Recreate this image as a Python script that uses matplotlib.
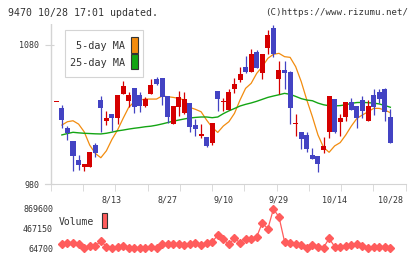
import numpy as np
import matplotlib.pyplot as plt
from matplotlib.patches import Rectangle

plt.rcParams['font.family'] = 'DejaVu Sans Mono'

# daily candles (first one is the previous close marker)
opens = [1039, 1035, 1020.5, 1011, 997, 992, 992.4, 1008, 1040.4, 1025.6,
         1030.1, 1027.2, 1044.7, 1039.9, 1048.8, 1044, 1036.1, 1044.7, 1055.3, 1056,
         1043.3, 1022.9, 1035.6, 1030.8, 1038, 1022.4, 1014.5, 1013.5, 1009.7, 1046.9,
         1039.2, 1033.2, 1048.4, 1054.8, 1063.9, 1060.8, 1074.7, 1060.1, 1078.1, 1092,
         1055.5, 1062, 1060.3, 1023.4, 1017.4, 1015.3, 1000.9, 1000.2, 1004.5, 1017.7,
         1041.2, 1024.9, 1028.4, 1039, 1036.1, 1040.4, 1025.6, 1044, 1046.4, 1048.4,
         1028.4]
closes = [1039, 1026, 1017, 1000, 994, 994.3, 1003.2, 1002.5, 1034.9, 1027.7,
          1027.7, 1044, 1050.7, 1044, 1035.1, 1036.3, 1040.9, 1051.2, 1051.7, 1042.8,
          1028.4, 1036.1, 1042.8, 1040.9, 1020.7, 1019.5, 1015.7, 1007.5, 1023.6, 1041.1,
          1039.2, 1046.4, 1051.7, 1059.1, 1060.3, 1073.3, 1063.7, 1073.5, 1087.2, 1073.5,
          1062, 1060.1, 1034.9, 1023.4, 1012.6, 1005.2, 997.8, 994.4, 1007.4, 1043.3,
          1017.7, 1027.5, 1039, 1033.2, 1027.7, 1032.7, 1036.1, 1035.6, 1041.1, 1032,
          1009.7]
highs = [1039, 1037, 1022, 1011, 1001, 994.3, 1003.2, 1009.7, 1043.3, 1032.5,
         1030.1, 1044, 1054.1, 1046.4, 1048.8, 1046.4, 1042.3, 1055.3, 1057.2, 1056,
         1043.3, 1036.1, 1046.9, 1046.4, 1038, 1026.5, 1022.9, 1013.5, 1024.1, 1046.9,
         1042.1, 1048.1, 1056, 1063.9, 1072.1, 1076.9, 1076.4, 1073.5, 1090.8, 1094.4,
         1068.5, 1068.5, 1061.3, 1030.4, 1017.4, 1017.2, 1005.7, 1000.2, 1013.6, 1043.3,
         1041.2, 1030.4, 1039, 1041.6, 1036.1, 1043.3, 1040.4, 1048.4, 1048.4, 1049.3,
         1033.7]
lows = [1039, 1020, 1012, 989, 990, 989.6, 992.4, 999.7, 1017.7, 1022.4,
        1018.1, 1023.2, 1044.7, 1035.1, 1031.3, 1031.5, 1035.1, 1044.7, 1051.2, 1036.8,
        1023.6, 1022.9, 1028.9, 1030.3, 1017.6, 1014.5, 1012.8, 1006.8, 1008, 1032.7,
        1032.7, 1033.2, 1045.7, 1053.6, 1059.6, 1060.8, 1063.7, 1055.5, 1073.5, 1071.1,
        1044.8, 1048.4, 1023.2, 1014.5, 1005.2, 1003.3, 997.8, 988.9, 1002.6, 1013.3,
        1016.9, 1014.5, 1025.3, 1033.2, 1020.5, 1027.7, 1025.6, 1029.6, 1038, 1025.6,
        1009.7]

# moving averages, from the 2nd candle on
ma5 = [1022.4, 1024.8, 1025.5, 1023.1, 1017.6, 1008, 1002, 998.9, 1003.9, 1012.1,
       1018.8, 1027.2, 1035.1, 1039.2, 1040.4, 1041.1, 1041.1, 1041.1, 1043.3, 1042.8,
       1042.3, 1041.6, 1040.4, 1035.1, 1033.7, 1032, 1026, 1020.7, 1017.1, 1021.7,
       1024.8, 1030.8, 1040.4, 1048.8, 1052.4, 1059.6, 1064.4, 1070.4, 1073.3, 1074,
       1071.6, 1071.1, 1064.4, 1053.6, 1040.4, 1028.4, 1015.3, 1006.4, 1002.8, 1007.4,
       1009.8, 1015.3, 1021.7, 1027.2, 1029.7, 1032, 1034.4, 1034.4, 1033.2, 1031.3]
ma25 = [1015.3, 1016.3, 1017.2, 1016.8, 1016.5, 1016.3, 1016.1, 1016, 1016.5, 1017.3,
        1018.2, 1018.8, 1019.5, 1020.1, 1020.6, 1021.2, 1021.6, 1022.3, 1023.2, 1024.2,
        1025.2, 1026, 1026.8, 1027.5, 1027.9, 1028.2, 1028.2, 1027.7, 1028.2, 1030.6,
        1032.6, 1034.3, 1036.1, 1037.3, 1038.3, 1039.5, 1040.9, 1042.3, 1043.3, 1044.2,
        1045.2, 1044.5, 1043.0, 1041.4, 1040.4, 1039.9, 1038.2, 1037, 1036.3, 1036.2,
        1036.4, 1037.0, 1038.0, 1038.6, 1038.7, 1038.5, 1038.2, 1037.6, 1036.5, 1035.2]

volume = [159400, 179700, 179700, 145900, 78200, 112000, 112000, 213500, 98500, 78200,
          91800, 112000, 78200, 78200, 78200, 64700, 91800, 78200, 145900, 159400,
          145900, 159400, 125600, 145900, 179700, 125600, 179700, 193200, 335300, 247300,
          145900, 267600, 179700, 247300, 247300, 301400, 585500, 463800, 869600, 707300,
          200000, 179700, 159400, 132300, 64700, 125600, 98500, 78200, 267600, 98500,
          98500, 112000, 132300, 145900, 112000, 64700, 98500, 98500, 91800, 78200]

date_labels = ['8/13', '8/27', '9/10', '9/29', '10/14', '10/28']
date_index = [11, 21, 31, 41, 51, 61]
price_ticks = [980, 1080]
vol_ticks = [64700, 467150, 869600]

RED = '#d50000'
BLUE = '#4343c3'
ORANGE = '#f28c0f'
GREEN = '#14a514'
VOLC = '#ff5c5c'
GRAY = '#d4d4d4'
TXT = '#333333'

W, H = 420, 259
fig = plt.figure(figsize=(W / 100, H / 100), dpi=100)


def fx(px):
    return px / W


def fy(py):
    return 1 - py / H


# price panel
ax = fig.add_axes([fx(45), fy(184), fx(405.7) - fx(45), fy(24) - fy(184)])
n = len(closes)
x = np.arange(1, n + 1)
for i in range(n):
    o, c = opens[i], closes[i]
    col = RED if c >= o else BLUE
    ax.vlines(x[i], lows[i], highs[i], color=col, lw=0.9, zorder=3)
    ax.bar(x[i], max(abs(c - o), 0.7), bottom=min(o, c), width=0.9,
           color=col, lw=0, zorder=3)
ax.plot(x[1:], ma5, color=ORANGE, lw=0.9, zorder=2)
ax.plot(x[1:], ma25, color=GREEN, lw=1.0, zorder=2)

ax.set_xlim(-1.03, 63.76)
ax.set_ylim(980, 1095.1)
for s in ['top', 'right', 'left']:
    ax.spines[s].set_visible(False)
ax.spines['bottom'].set_color(GRAY)
ax.axvline(0, color=GRAY, lw=1.0)
ax.set_yticks(price_ticks)
ax.tick_params(axis='y', direction='in', length=6.5, color=GRAY,
               labelsize=6, labelcolor=TXT, pad=4)
ax.set_xticks(date_index, date_labels)
ax.tick_params(axis='x', which='major', length=0, pad=8, labelsize=6,
               labelcolor=TXT)
ax.set_xticks(np.arange(12) * 5.797 - 0.006, minor=True)
ax.tick_params(axis='x', which='minor', length=5, color=GRAY, direction='out')

# volume panel
vax = fig.add_axes([fx(45), fy(252), fx(405.7) - fx(45), fy(205) - fy(252)])
vpp = (vol_ticks[-1] - vol_ticks[0]) / (248.3 - 209)
vax.set_ylim(vol_ticks[0] - 3.7 * vpp, vol_ticks[-1] + 4 * vpp)
vax.set_xlim(-1.03, 63.76)
vax.plot(x[1:], volume, color=VOLC, lw=0.9, marker='D', ms=4.3,
         mec=VOLC, mfc=VOLC)
for s in vax.spines.values():
    s.set_visible(False)
vax.set_xticks([])
vax.set_yticks(vol_ticks, [str(v) for v in vol_ticks])
vax.tick_params(axis='y', length=0, pad=-5.8, labelsize=6, labelcolor=TXT)

# header
fig.text(fx(8), fy(12.5), '9470 10/28 17:01 updated.', ha='left', va='center',
         fontsize=7.1, color=TXT)
fig.text(fx(408), fy(12.5), '(C)https://www.rizumu.net/', ha='right',
         va='center', fontsize=6.6, color=TXT)

# legend boxes
fig.add_artist(Rectangle((fx(65), fy(77.3)), fx(143.3) - fx(65), fy(30) - fy(77.3),
                         transform=fig.transFigure, fc='white', ec=GRAY, lw=0.8,
                         zorder=5))
fig.text(fx(125), fy(46), '5-day MA', ha='right', va='center', fontsize=7.3,
         color=TXT, zorder=6)
fig.text(fx(125), fy(63.3), '25-day MA', ha='right', va='center', fontsize=7.3,
         color=TXT, zorder=6)
fig.add_artist(Rectangle((fx(131), fy(52.7)), fx(137.7) - fx(131), fy(37.3) - fy(52.7),
                         transform=fig.transFigure, fc=ORANGE, ec=TXT, lw=0.8,
                         zorder=6))
fig.add_artist(Rectangle((fx(131), fy(69.3)), fx(137.7) - fx(131), fy(54.3) - fy(69.3),
                         transform=fig.transFigure, fc=GREEN, ec=TXT, lw=0.8,
                         zorder=6))
fig.text(fx(59), fy(221.7), 'Volume', ha='left', va='center', fontsize=7,
         color=TXT)
fig.add_artist(Rectangle((fx(101.7), fy(228.3)), fx(107.3) - fx(101.7),
                         fy(213.3) - fy(228.3), transform=fig.transFigure,
                         fc=VOLC, ec=TXT, lw=0.8))

fig.savefig('out.png', dpi=100)
